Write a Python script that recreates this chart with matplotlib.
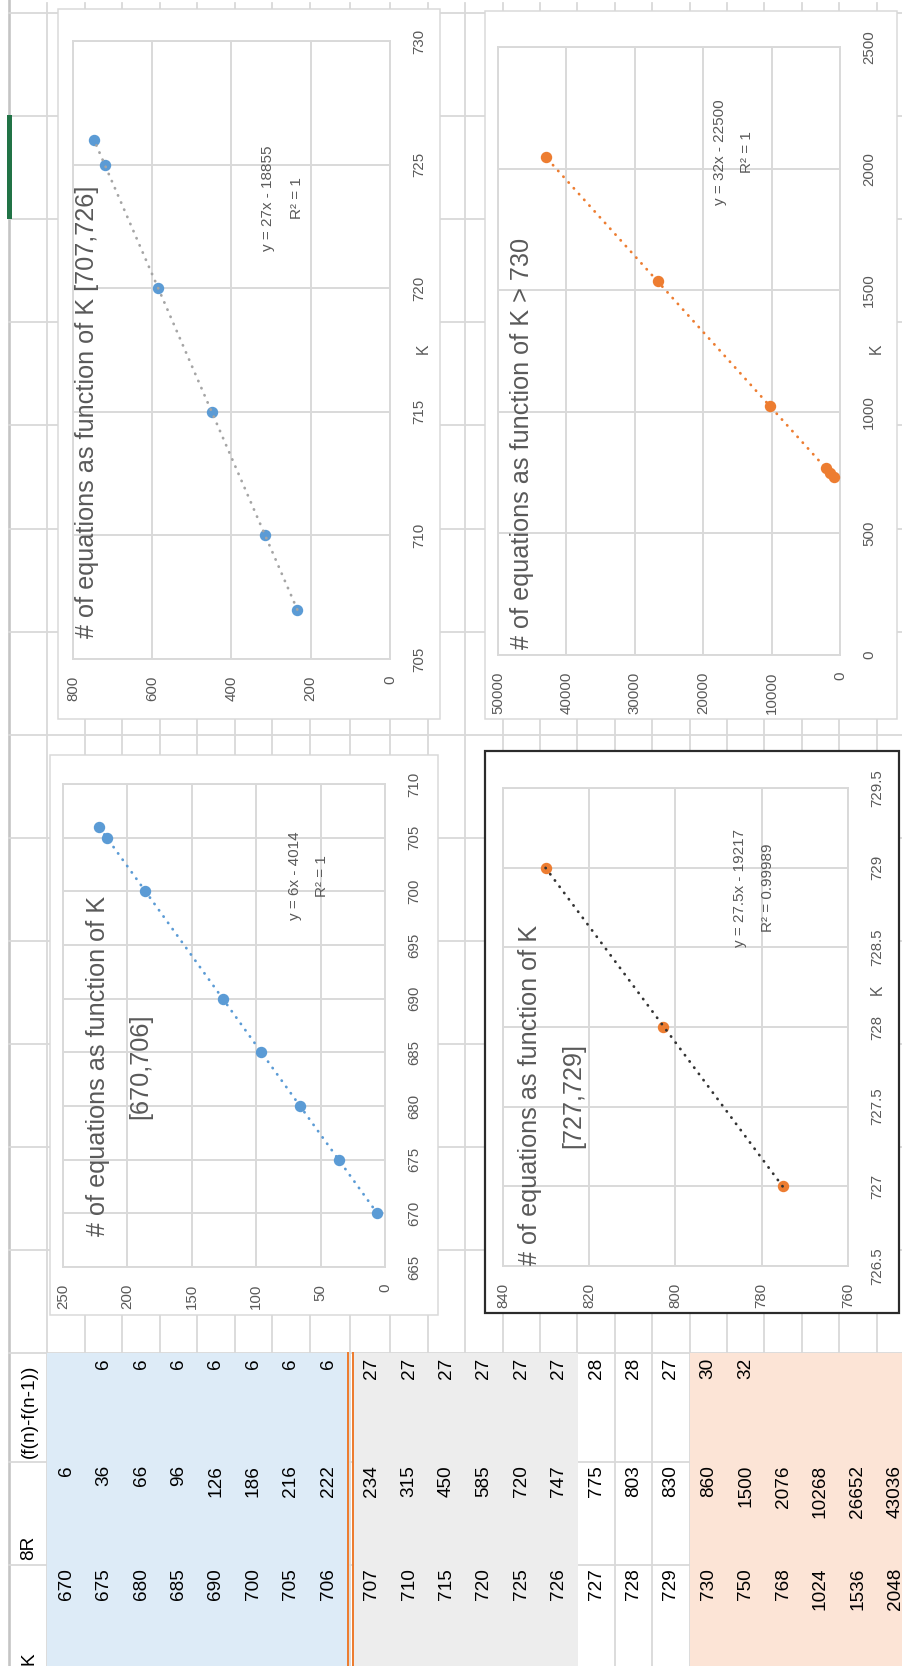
import numpy as np
import matplotlib
matplotlib.use('Agg')
import matplotlib.pyplot as plt
from matplotlib.patches import Rectangle

plt.rcParams['font.family'] = ['Liberation Sans', 'DejaVu Sans']

W, H = 903, 1666

# spreadsheet table
headers = ['K', '8R', '(f(n)-f(n-1))']
k_vals = [670, 675, 680, 685, 690, 700, 705, 706, 707, 710, 715, 720, 725, 726,
          727, 728, 729, 730, 750, 768, 1024, 1536, 2048]
r8_vals = [6, 36, 66, 96, 126, 186, 216, 222, 234, 315, 450, 585, 720, 747,
           775, 803, 830, 860, 1500, 2076, 10268, 26652, 43036]
diff_vals = ['', 6, 6, 6, 6, 6, 6, 6, 27, 27, 27, 27, 27, 27,
             28, 28, 27, 30, 32, '', '', '', '']

# chart series
k_a = [670, 675, 680, 685, 690, 700, 705, 706]
y_a = [6, 36, 66, 96, 126, 186, 216, 222]
k_b = [707, 710, 715, 720, 725, 726]
y_b = [234, 315, 450, 585, 720, 747]
k_c = [727, 728, 729]
y_c = [775, 803, 830]
k_d = [730, 750, 768, 1024, 1536, 2048]
y_d = [860, 1500, 2076, 10268, 26652, 43036]

BLUE = '#5B9BD5'
ORANGE = '#ED7D31'
GRID = '#D9D9D9'
TXT = '#595959'

TITLE_FS = 18.2
EQ_FS = 11
TICK_FS = 10.8
TABLE_FS = 13.7

fig = plt.figure(figsize=(W / 100, H / 100), dpi=100)
bg = fig.add_axes([0, 0, 1, 1], zorder=-1)
bg.set_xlim(0, W)
bg.set_ylim(H, 0)
bg.axis('off')


def row_span(i):
    if i < 8:
        x0 = 47.5 + 37.45 * i
    else:
        x0 = 353 + 37.4 * (i - 8)
    return x0, x0 + 37.4


def px(v):
    return v * 0.72


# sheet gridlines
row_lines = [47.5] + [row_span(i)[1] for i in range(len(k_vals))]
row_lines = [350 if abs(x - 347.1) < 1 else x for x in row_lines]
for x in row_lines:
    bg.plot([x, x], [3, H], color=GRID, lw=px(1.8), zorder=1)
bg.plot([9.5, 9.5], [0, H], color='#C4C4C4', lw=px(2.6), zorder=1)
col_lines = [13 + 103.1 * k for k in range(14)] + [1462, 1565]
for y in col_lines:
    bg.plot([9.5, W], [y, y], color=GRID, lw=px(1.8), zorder=1)

# table fills
table_top = 1353
fills = [(0, 8, '#DDEBF7'), (8, 14, '#EDEDED'), (17, 23, '#FCE4D6')]
for a, b, col in fills:
    xa = row_span(a)[0]
    xb = row_span(b - 1)[1] + (1 if b < 23 else 40)
    bg.add_patch(Rectangle((xa, table_top), xb - xa, H - table_top + 5,
                           facecolor=col, edgecolor='none', zorder=2))
for xo in (348.2, 352.8):
    bg.plot([xo, xo], [table_top, H], color=ORANGE, lw=px(2.0), zorder=3)

# green selection mark
bg.add_patch(Rectangle((7, 115), 5, 104, facecolor='#217346', edgecolor='none', zorder=3))

# table text
for i, (k, r, d) in enumerate(zip(k_vals, r8_vals, diff_vals)):
    x0, x1 = row_span(i)
    xc = (x0 + x1) / 2
    bg.text(xc, 1568, str(k), rotation=90, ha='center', va='top', fontsize=TABLE_FS, zorder=4)
    bg.text(xc, 1465, str(r), rotation=90, ha='center', va='top', fontsize=TABLE_FS, zorder=4)
    if d != '':
        bg.text(xc, 1358, str(d), rotation=90, ha='center', va='top', fontsize=TABLE_FS, zorder=4)
for name, yb in zip(headers, [1665, 1560, 1458]):
    bg.text(29, yb, name, rotation=90, ha='center', va='bottom', fontsize=TABLE_FS, zorder=4)


def put(x, y, s, size, **kw):
    fig.text(x / W, 1 - y / H, s, rotation=90, ha='center', va='center',
             fontsize=size, color=TXT, **kw)


def chart(box, plot, ks, ys, vlim, vstep, klim, kstep, mcol, tcol,
          edge=GRID, edge_w=1.5):
    x0, y0, x1, y1 = box
    bg.add_patch(Rectangle((x0, y0), x1 - x0, y1 - y0, facecolor='white',
                           edgecolor=edge, lw=px(edge_w), zorder=5))
    p0, q0, p1, q1 = plot
    ax = fig.add_axes([p0 / W, 1 - q1 / H, (p1 - p0) / W, (q1 - q0) / H])
    ks = np.asarray(ks, float)
    ys = np.asarray(ys, float)
    ax.plot(ys, ks, 'o', color=mcol, ms=7.2, mec=mcol, zorder=3, clip_on=False)
    slope, icpt = np.polyfit(ks, ys, 1)
    kk = np.array([ks.min(), ks.max()])
    ax.plot(slope * kk + icpt, kk, color=tcol, lw=2.0, linestyle=(0, (0.1, 2.7)),
            dash_capstyle='round', zorder=4, clip_on=False)
    ax.set_xlim(vlim[1], vlim[0])
    ax.set_ylim(klim)
    vt = np.arange(vlim[0], vlim[1] + vstep / 2, vstep)
    kt = np.arange(klim[0], klim[1] + kstep / 2, kstep)
    ax.set_xticks(vt, labels=['%g' % v for v in vt])
    ax.yaxis.tick_right()
    ax.set_yticks(kt, labels=['%g' % v for v in kt], rotation=90, va='center', ha='left')
    ax.tick_params(axis='x', length=0, pad=12, labelsize=TICK_FS, labelcolor=TXT, labelrotation=90)
    ax.tick_params(axis='y', length=0, pad=16, labelsize=TICK_FS, labelcolor=TXT)
    ax.grid(True, color=GRID, lw=1.4)
    ax.set_axisbelow(True)
    for s in ax.spines.values():
        s.set_color(GRID)
        s.set_linewidth(1.4)
    return ax


# [707,726]
chart((58, 9, 440, 719), (73, 41, 390, 659), k_b, y_b, (0, 800), 200, (705, 730), 5,
      BLUE, '#A5A5A5')
put(87, 412, '# of equations as function of K [707,726]', TITLE_FS)
put(268, 198, 'y = 27x - 18855', EQ_FS)
put(297, 198, 'R² = 1', EQ_FS)
put(423, 349, 'K', TICK_FS + 0.5)

# > 730
chart((485, 11, 897, 719), (498, 47, 840, 655), k_d, y_d, (0, 50000), 10000, (0, 2500), 500,
      ORANGE, ORANGE)
put(522, 443, '# of equations as function of K > 730', TITLE_FS)
put(720, 152, 'y = 32x - 22500', EQ_FS)
put(747, 152, 'R² = 1', EQ_FS)
put(876, 349, 'K', TICK_FS + 0.5)

# [670,706]
chart((50, 755, 438, 1315), (63, 784, 385, 1267), k_a, y_a, (0, 250), 50, (665, 710), 5,
      BLUE, BLUE)
put(98, 1066, '# of equations as function of K', TITLE_FS)
put(140, 1066, '[670,706]', TITLE_FS)
put(295, 876, 'y = 6x - 4014', EQ_FS)
put(322, 876, 'R² = 1', EQ_FS)

# [727,729]
chart((485, 751, 899, 1313), (503, 788, 848, 1266), k_c, y_c, (760, 840), 20, (726.5, 729.5), 0.5,
      ORANGE, '#333333', edge='#2B2B2B', edge_w=2.2)
put(530, 1095, '# of equations as function of K', TITLE_FS)
put(573, 1095, '[727,729]', TITLE_FS)
put(740, 888, 'y = 27.5x - 19217', EQ_FS)
put(768, 888, 'R² = 0.99989', EQ_FS)
put(877, 990, 'K', TICK_FS + 0.5)

fig.savefig('out.png', dpi=100)
